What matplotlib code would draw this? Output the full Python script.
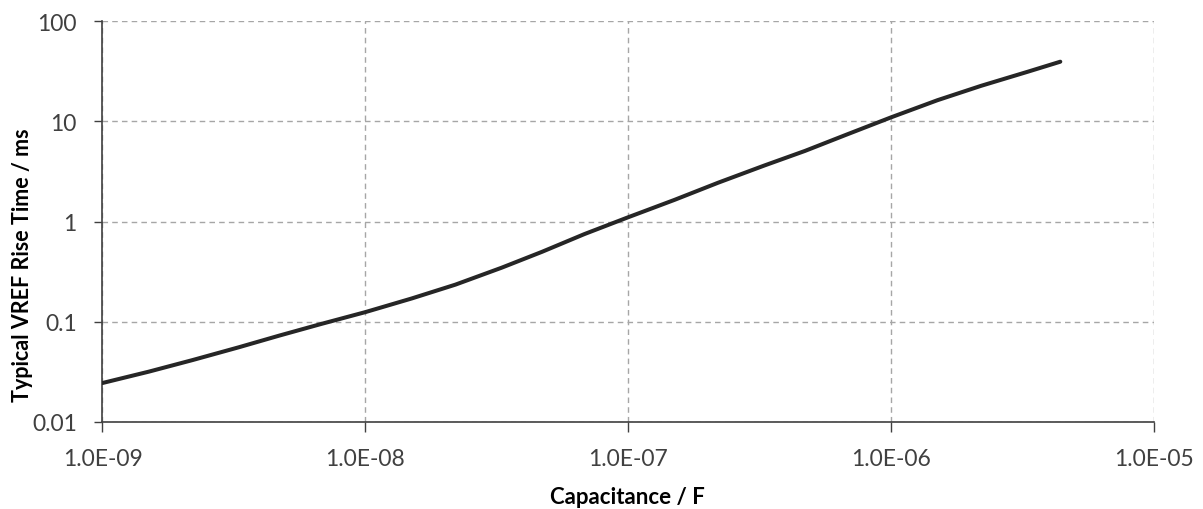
import matplotlib
matplotlib.use("Agg")
import matplotlib.pyplot as plt

# values
capacitance_f = [1.0e-9, 1.5e-9, 2.2e-9, 3.3e-9, 4.7e-9, 6.8e-9,
                 1.0e-8, 1.5e-8, 2.2e-8, 3.3e-8, 4.7e-8, 6.8e-8,
                 1.0e-7, 1.5e-7, 2.2e-7, 3.3e-7, 4.7e-7, 6.8e-7,
                 1.0e-6, 1.5e-6, 2.2e-6, 3.3e-6, 4.4e-6]
rise_time_ms = [0.0245, 0.0318, 0.0415, 0.0557, 0.0728, 0.0953,
                0.125, 0.171, 0.235, 0.347, 0.50, 0.75,
                1.107, 1.65, 2.45, 3.64, 5.08, 7.43,
                11.0, 16.3, 22.7, 31.3, 39.5]

x_ticks = [1e-9, 1e-8, 1e-7, 1e-6, 1e-5]
x_tick_labels = ["1.0E-09", "1.0E-08", "1.0E-07", "1.0E-06", "1.0E-05"]
y_ticks = [0.01, 0.1, 1, 10, 100]
y_tick_labels = ["0.01", "0.1", "1", "10", "100"]

plt.rcParams['font.family'] = ['Lato', 'DejaVu Sans']

fig = plt.figure(figsize=(12.03, 5.10), dpi=100)
ax = fig.add_axes([0.0852, 0.1706, 0.8741, 0.7857])

ax.plot(capacitance_f, rise_time_ms, color='#262626', lw=2.9,
        solid_capstyle='round', solid_joinstyle='round', zorder=3)

ax.set_xscale('log')
ax.set_yscale('log')
ax.set_xlim(1e-9, 1e-5)
ax.set_ylim(0.01, 100)
ax.set_xticks(x_ticks)
ax.set_xticklabels(x_tick_labels)
ax.set_yticks(y_ticks)
ax.set_yticklabels(y_tick_labels)
ax.minorticks_off()

ax.grid(True, which='major', color='#a6a6a6', lw=1.0, ls=(0, (4, 3)))
ax.set_axisbelow(True)
for side in ['top', 'right']:
    ax.spines[side].set_visible(False)
for side in ['left', 'bottom']:
    ax.spines[side].set_color('#404040')
    ax.spines[side].set_linewidth(1.2)

ax.tick_params(axis='x', length=7, width=1.0, color='#404040',
               labelsize=16.5, labelcolor='#404040', pad=12)
ax.tick_params(axis='y', length=5.5, width=1.0, color='#404040',
               labelsize=16.5, labelcolor='#404040', pad=13)

ax.set_xlabel("Capacitance / F", fontsize=16, fontweight='bold', va='center')
ax.set_ylabel("Typical VREF Rise Time / ms", fontsize=15.5, fontweight='bold', va='center')
ax.xaxis.set_label_coords(0.4994, -0.185)
ax.yaxis.set_label_coords(-0.0756, 0.395)

fig.savefig("out.png", dpi=100)
